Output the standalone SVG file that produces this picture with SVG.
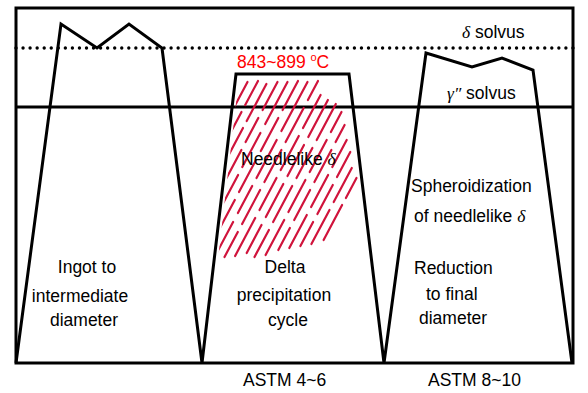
<svg xmlns="http://www.w3.org/2000/svg" width="588" height="393" viewBox="0 0 588 393">
<style>
  .ln{fill:none;stroke:#000;stroke-width:3;stroke-linejoin:miter}
  .t{font-family:"Liberation Sans",Arial,sans-serif;font-size:17.5px;fill:#000}
  .red{fill:#ff0000}
  .g{font-family:"Liberation Serif","Times New Roman",serif;font-style:italic}
  .h line{stroke:#d0143c;stroke-width:2.2;stroke-linecap:round}
</style>
<defs>
  <clipPath id="trap"><polygon points="239,77 346,77 381,363 206,363"/></clipPath>
</defs>
<rect width="588" height="393" fill="#fff"/>
<g id="frame">
  <rect class="ln" x="16" y="8" width="557" height="355"/>
</g>
<g id="solvus-lines">
  <line x1="16" y1="48" x2="573" y2="48" stroke="#000" stroke-width="3.4" stroke-linecap="round" stroke-dasharray="0 7.05"/>
  <line class="ln" x1="16" y1="107" x2="573" y2="107"/>
</g>
<g id="hatch" class="h" clip-path="url(#trap)">
  <line x1="232.6" y1="110" x2="247.5" y2="82"/>
  <line x1="229.8" y1="134" x2="241.5" y2="112"/>
  <line x1="245.2" y1="105" x2="258.0" y2="81"/>
  <line x1="227.1" y1="158" x2="243.0" y2="128"/>
  <line x1="246.7" y1="121" x2="266.4" y2="84"/>
  <line x1="224.4" y1="182" x2="241.4" y2="150"/>
  <line x1="245.6" y1="142" x2="258.3" y2="118"/>
  <line x1="262.6" y1="110" x2="277.5" y2="82"/>
  <line x1="221.1" y1="207" x2="238.1" y2="175"/>
  <line x1="242.3" y1="167" x2="260.4" y2="133"/>
  <line x1="265.2" y1="124" x2="287.5" y2="82"/>
  <line x1="218.3" y1="231" x2="234.8" y2="200"/>
  <line x1="239.0" y1="192" x2="256.0" y2="160"/>
  <line x1="260.8" y1="151" x2="278.3" y2="118"/>
  <line x1="282.6" y1="110" x2="298.0" y2="81"/>
  <line x1="215.6" y1="255" x2="233.1" y2="222"/>
  <line x1="237.9" y1="213" x2="252.2" y2="186"/>
  <line x1="256.5" y1="178" x2="276.7" y2="140"/>
  <line x1="281.4" y1="131" x2="307.5" y2="82"/>
  <line x1="224.5" y1="257" x2="237.8" y2="232"/>
  <line x1="242.1" y1="224" x2="260.1" y2="190"/>
  <line x1="264.4" y1="182" x2="281.4" y2="150"/>
  <line x1="285.6" y1="142" x2="303.7" y2="108"/>
  <line x1="307.9" y1="100" x2="318.0" y2="81"/>
  <line x1="235.1" y1="256" x2="255.2" y2="218"/>
  <line x1="259.5" y1="210" x2="276.5" y2="178"/>
  <line x1="280.7" y1="170" x2="298.8" y2="136"/>
  <line x1="303.0" y1="128" x2="320.6" y2="95"/>
  <line x1="246.7" y1="253" x2="261.5" y2="225"/>
  <line x1="265.8" y1="217" x2="283.3" y2="184"/>
  <line x1="287.5" y1="176" x2="304.0" y2="145"/>
  <line x1="308.3" y1="137" x2="327.9" y2="100"/>
  <line x1="254.5" y1="257" x2="268.9" y2="230"/>
  <line x1="273.1" y1="222" x2="292.2" y2="186"/>
  <line x1="296.5" y1="178" x2="312.4" y2="148"/>
  <line x1="316.7" y1="140" x2="335.8" y2="104"/>
  <line x1="265.6" y1="255" x2="284.2" y2="220"/>
  <line x1="288.4" y1="212" x2="305.4" y2="180"/>
  <line x1="309.7" y1="172" x2="326.7" y2="140"/>
  <line x1="330.9" y1="132" x2="341.5" y2="112"/>
  <line x1="278.3" y1="250" x2="289.9" y2="228"/>
  <line x1="294.2" y1="220" x2="310.1" y2="190"/>
  <line x1="314.4" y1="182" x2="331.4" y2="150"/>
  <line x1="335.6" y1="142" x2="344.6" y2="125"/>
  <line x1="289.3" y1="248" x2="306.8" y2="215"/>
  <line x1="311.1" y1="207" x2="328.1" y2="175"/>
  <line x1="332.3" y1="167" x2="346.7" y2="140"/>
  <line x1="300.4" y1="246" x2="313.1" y2="222"/>
  <line x1="317.4" y1="214" x2="332.8" y2="185"/>
  <line x1="337.0" y1="177" x2="350.3" y2="152"/>
  <line x1="311.4" y1="244" x2="329.5" y2="210"/>
  <line x1="333.7" y1="202" x2="351.8" y2="168"/>
  <line x1="323.6" y1="240" x2="342.1" y2="205"/>
  <line x1="345.9" y1="198" x2="356.5" y2="178"/>
</g>
<g id="connectors">
  <polyline class="ln" points="16,363 61,24 97,48 129,24 162,48 202,363 236,74 349,74 384,363 426,53 472,67 502,58 533,70 572,363"/>
</g>
<g id="labels">
  <text class="t" x="462" y="38"><tspan class="g">δ</tspan> solvus</text>
  <text class="t" x="447" y="99"><tspan class="g">γ″</tspan> solvus</text>
  <text class="t red" x="237" y="68">843~899 <tspan font-size="11" dy="-7">o</tspan><tspan dy="7">C</tspan></text>
  <text class="t" x="241" y="165">Needlelike <tspan class="g">δ</tspan></text>
</g>
<g id="stage1">
  <text class="t" x="87" y="273" text-anchor="middle">Ingot to</text>
  <text class="t" x="80" y="302" text-anchor="middle">intermediate</text>
  <text class="t" x="84" y="326" text-anchor="middle">diameter</text>
</g>
<g id="stage2">
  <text class="t" x="285" y="273" text-anchor="middle">Delta</text>
  <text class="t" x="284" y="301" text-anchor="middle">precipitation</text>
  <text class="t" x="288" y="326" text-anchor="middle">cycle</text>
  <text class="t" x="243" y="386">ASTM 4~6</text>
</g>
<g id="stage3">
  <text class="t" x="411" y="192">Spheroidization</text>
  <text class="t" x="414" y="222">of needlelike <tspan class="g">δ</tspan></text>
  <text class="t" x="414" y="274">Reduction</text>
  <text class="t" x="426" y="300">to final</text>
  <text class="t" x="419" y="324">diameter</text>
  <text class="t" x="428" y="386">ASTM 8~10</text>
</g>
</svg>
